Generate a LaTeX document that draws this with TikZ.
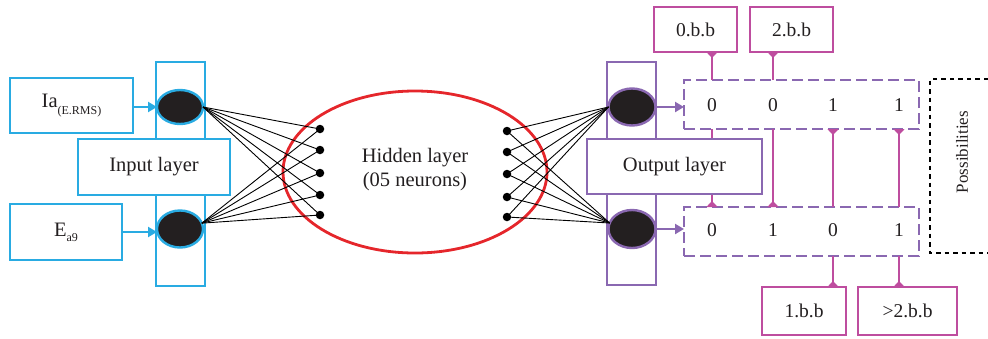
\documentclass[tikz,border=0pt]{standalone}
\usepackage{fontspec}
\setmainfont{Liberation Serif}
\usetikzlibrary{arrows.meta,shapes.geometric}
\definecolor{cblue}{HTML}{29ABE2}
\definecolor{cpurple}{HTML}{8A68B1}
\definecolor{cmag}{HTML}{BE4D9F}
\definecolor{cred}{HTML}{E5262B}
\definecolor{cdark}{HTML}{231F20}
\newcommand\lblfont{\fontsize{20.5}{24}\selectfont}
\newcommand\digfont{\fontsize{19.5}{23}\selectfont}
\newcommand\subfont{\fontsize{12}{14}\selectfont}
\newcommand\posfont{\fontsize{17}{20}\selectfont}
\begin{document}
\begin{tikzpicture}[x=1pt,y=-1pt,
  every node/.style={inner sep=0pt, outer sep=0pt, font=\lblfont, text=cdark},
  bluebox/.style={draw=cblue, line width=2.4pt, fill=white},
  purplebox/.style={draw=cpurple, line width=2.4pt, fill=white},
  magbox/.style={draw=cmag, line width=2.4pt, fill=white, font=\digfont},
  neuron/.style={ellipse, fill=cdark, line width=2.4pt},
  hdot/.style={circle, fill=black, minimum size=8.5pt},
  wire/.style={black, line width=0.9pt},
  barrow/.style={line width=2.4pt, -{Triangle[length=9pt,width=10pt]}},
  dashbox/.style={draw=cpurple, line width=2.4pt, dash pattern=on 11pt off 5pt},
  mline/.style={draw=cmag, line width=2.4pt},
  flare/.style={-{Triangle[reversed,length=6pt,width=11pt]}},
  digit/.style={font=\digfont},
]
\useasboundingbox (0,0) rectangle (988,338);

% ---------- input side ----------
\node[bluebox, minimum width=49pt, minimum height=224pt] (inrect) at (180.5,174) {};
\node[bluebox, minimum width=123pt, minimum height=55pt] (ia) at (71.5,105.5)
  {Ia\raisebox{-7pt}{\subfont (E.RMS)}};
\node[bluebox, minimum width=152pt, minimum height=56pt] (inl) at (154,167) {Input layer};
\node[bluebox, minimum width=112pt, minimum height=56pt] (ea) at (66,232)
  {E\raisebox{-5pt}{\subfont a9}};
\node[neuron, draw=cblue, minimum width=46pt, minimum height=34pt] (in1) at (180,107) {};
\node[neuron, draw=cblue, minimum width=46pt, minimum height=37pt] (in2) at (180,229) {};
\draw[barrow, cblue] (ia.east |- in1) -- (in1.west);
\draw[barrow, cblue] (ea.east) -- (ea.east -| in2.west);

% ---------- hidden layer ----------
\node[ellipse, draw=cred, line width=2.8pt, minimum width=264pt, minimum height=162pt] (hid) at (415,172) {};
\node[align=center] (htxt) at (415,170) {Hidden layer\\(05 neurons)};
\foreach \i/\y in {1/129,2/150,3/173,4/195,5/215}
  \node[hdot] (h\i) at (320,\y) {};
\foreach \i/\y in {1/131,2/152,3/174,4/197,5/217}
  \node[hdot] (r\i) at (507,\y) {};

% ---------- output side (boxes first) ----------
\node[dashbox, minimum width=235pt, minimum height=49pt] (d1) at (801.5,104.5) {};
\node[dashbox, minimum width=235pt, minimum height=49pt] (d2) at (801.5,231.5) {};
\foreach \i/\x/\t in {1/712/0,2/773/0,3/833/1,4/899/1}
  \node[digit] (u\i) at (\x,105.5) {\t};
\foreach \i/\x/\t in {1/712/0,2/773/1,3/833/0,4/899/1}
  \node[digit] (l\i) at (\x,230) {\t};

\node[magbox, minimum width=83pt, minimum height=45pt] (b0) at (695.5,29.5) {0.b.b};
\node[magbox, minimum width=83pt, minimum height=45pt] (b2) at (791.5,29.5) {2.b.b};
\node[magbox, minimum width=84pt, minimum height=48pt] (b1) at (804,311) {1.b.b};
\node[magbox, minimum width=99pt, minimum height=48pt] (b3) at (907.5,311) {>2.b.b};

\draw[mline, flare] (d1.north -| u1) -- (b0.south -| u1);
\draw[mline, flare] (d1.north -| u2) -- (b2.south -| u2);
\draw[mline, flare] (d1.south -| u1) -- (d2.north -| u1);
\draw[mline, flare] (d1.south -| u2) -- (d2.north -| u2);
\draw[mline, flare] (d2.north -| u3) -- (d1.south -| u3);
\draw[mline, flare] (d2.north -| u4) -- (d1.south -| u4);
\draw[mline, flare] (d2.south -| u3) -- (b1.north -| u3);
\draw[mline, flare] (d2.south -| u4) -- (b3.north -| u4);

\node[purplebox, minimum width=49pt, minimum height=223pt] (outrect) at (631.5,173.5) {};
\node[purplebox, minimum width=175pt, minimum height=55pt] (outl) at (674.5,166.5) {Output layer};
\node[neuron, draw=cpurple, minimum width=47pt, minimum height=37pt] (out1) at (632,107) {};
\node[neuron, draw=cpurple, minimum width=47pt, minimum height=38pt] (out2) at (632,229) {};
\draw[barrow, cpurple] (out1.east) -- (out1.east -| d1.west);
\draw[barrow, cpurple] (out2.east) -- (out2.east -| d2.west);

% ---------- connections ----------
\foreach \i in {1,...,5} {
  \draw[wire] (in1.east) -- (h\i.center);
  \draw[wire] (in2.15) -- (h\i.center);
  \draw[wire] (r\i.center) -- (out1.west);
  \draw[wire] (r\i.center) -- (out2.165);
}

% ---------- possibilities ----------
\node[font=\posfont, rotate=90] (poss) at (962,152) {Possibilities};
\draw[black, line width=2.6pt, dash pattern=on 4.5pt off 4pt]
  (988,79) -- (930,79) -- (930,253) -- (988,253);
\end{tikzpicture}
\end{document}
